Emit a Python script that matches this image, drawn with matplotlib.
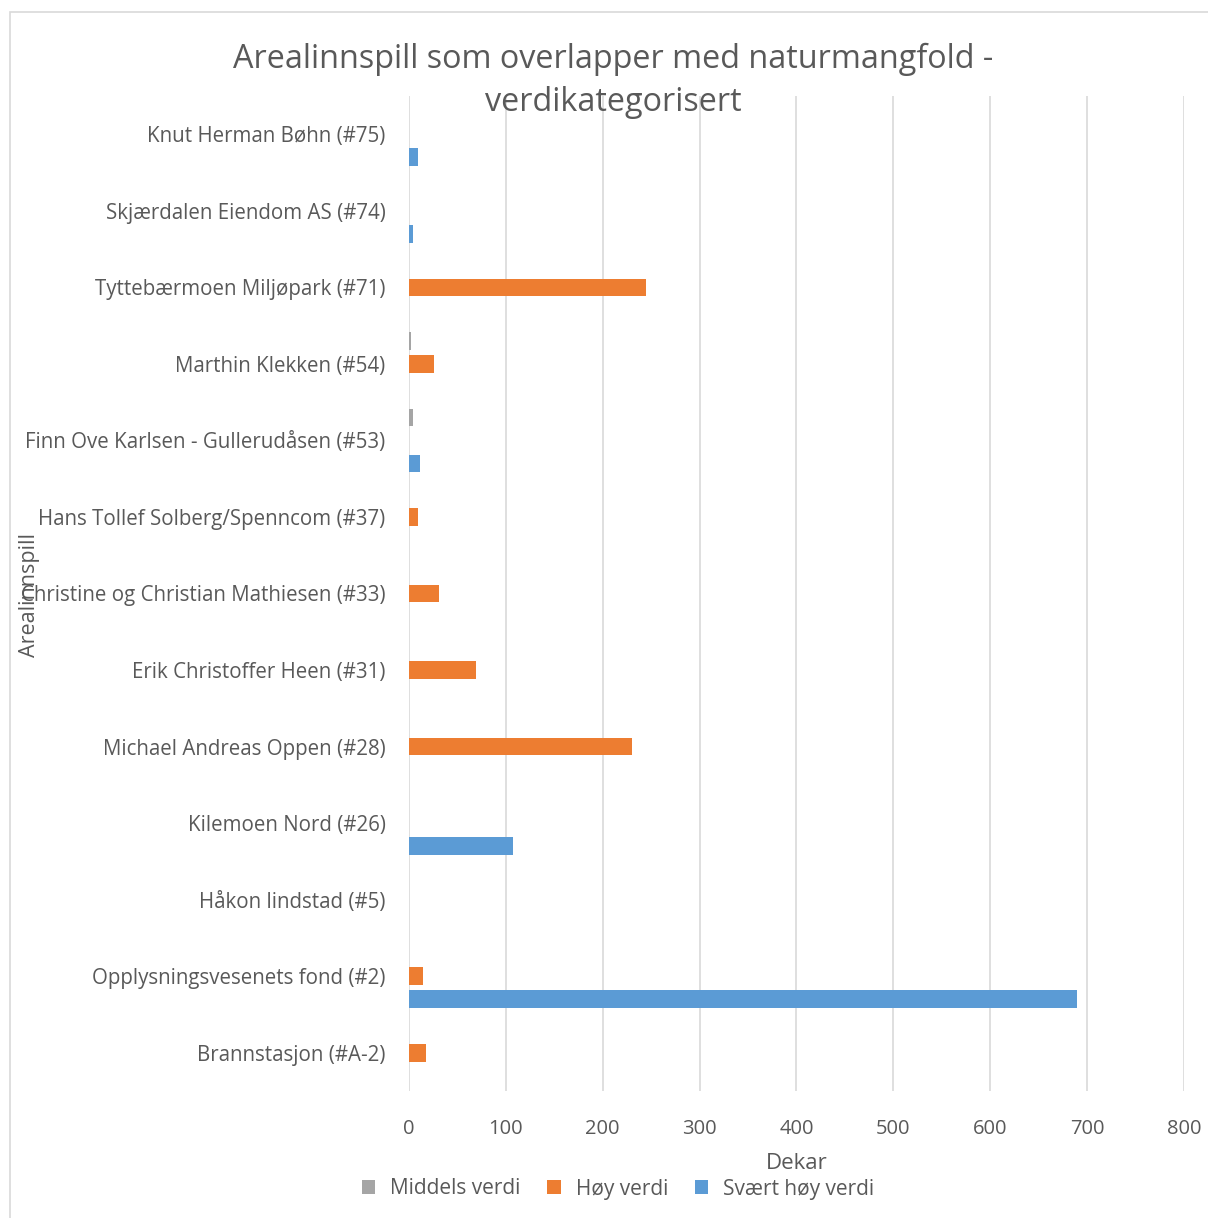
import numpy as np
import matplotlib.pyplot as plt
import matplotlib.patches as patches

# Data (bottom to top, as shown on the chart)
categories = [
    "Brannstasjon (#A-2)",
    "Opplysningsvesenets fond (#2)",
    "Håkon lindstad (#5)",
    "Kilemoen Nord (#26)",
    "Michael Andreas Oppen (#28)",
    "Erik Christoffer Heen (#31)",
    "Christine og Christian Mathiesen (#33)",
    "Hans Tollef Solberg/Spenncom (#37)",
    "Finn Ove Karlsen - Gullerudåsen (#53)",
    "Marthin Klekken (#54)",
    "Tyttebærmoen Miljøpark (#71)",
    "Skjærdalen Eiendom AS (#74)",
    "Knut Herman Bøhn (#75)",
]
middels = [0, 0, 0, 0, 0, 0, 0, 0, 4.5, 2, 0, 0, 0]
hoy = [18, 14, 0, 0, 230, 69, 31, 9.5, 0, 26, 245, 0, 0]
svaert = [0, 690, 0, 107, 0, 0, 0, 0, 11, 0, 0, 4.5, 9]

series_names = ["Middels verdi", "Høy verdi", "Svært høy verdi"]
colors = ["#a5a5a5", "#ed7d31", "#5b9bd5"]
text_col = "#595959"

plt.rcParams["font.family"] = ["Open Sans", "DejaVu Sans"]

fig = plt.figure(figsize=(12.08, 12.18), dpi=100)
W, H = 1208, 1218
ax = fig.add_axes([409 / W, 1 - 1091 / H, (1184 - 409) / W, (1091 - 96) / H])

# chart frame
fig.patches.append(patches.Rectangle((10 / W, -0.01), 1.02, 1 - 12 / H - (-0.01),
                                     transform=fig.transFigure, fill=False,
                                     edgecolor="#d9d9d9", linewidth=1.2))

y = np.arange(len(categories))
step = 0.30
h = 0.23
for i, (vals, name, c) in enumerate(zip([middels, hoy, svaert], series_names, colors)):
    ax.barh(y + (1 - i) * step, vals, height=h, color=c, label=name, zorder=3)

ax.set_xlim(0, 800)
ax.set_ylim(-0.5, len(categories) - 0.5)
ax.set_xticks(np.arange(0, 801, 100))
ax.set_yticks(y)
ax.set_yticklabels(categories)
ax.tick_params(axis="x", length=0, labelsize=14.5, colors=text_col, pad=20)
ax.tick_params(axis="y", length=0, labelsize=14.8, colors=text_col, pad=17)
ax.grid(axis="x", color="#d9d9d9", linewidth=1.2, zorder=0)
for s in ax.spines.values():
    s.set_visible(False)

ax.set_xlabel("Dekar", fontsize=16, color=text_col, labelpad=10)
fig.text(30 / W, 1 - 595 / H, "Arealinnspill", rotation=90, fontsize=15.5,
         color=text_col, ha="center", va="center")

fig.text(613 / W, 1 - 81 / H,
         "Arealinnspill som overlapper med naturmangfold -\nverdikategorisert",
         ha="center", va="center", fontsize=23.3, color=text_col, linespacing=1.4)

fig.legend(loc="center", bbox_to_anchor=(618 / W, 1 - 1189 / H), ncol=3,
           frameon=False, fontsize=15, labelcolor=text_col, handlelength=0.65,
           handleheight=0.65, columnspacing=1.3, handletextpad=0.7)

fig.savefig("out.png", dpi=100)
